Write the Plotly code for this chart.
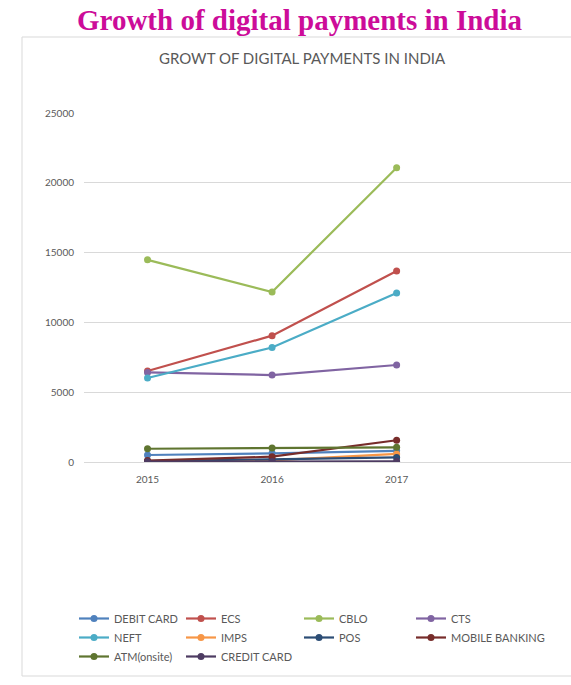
import plotly.graph_objects as go

years = ["2015", "2016", "2017"]
series_names = ["DEBIT CARD", "ECS", "CBLO", "CTS", "NEFT", "IMPS", "POS",
                "MOBILE BANKING", "ATM(onsite)", "CREDIT CARD"]
debit_card = [500, 620, 800]
ecs = [6520, 9050, 13680]
cblo = [14480, 12180, 21080]
cts = [6420, 6230, 6950]
neft = [6020, 8200, 12100]
imps = [30, 120, 580]
pos = [60, 200, 330]
mobile_banking = [100, 380, 1560]
atm_onsite = [950, 1010, 1050]
credit_card = [20, 30, 50]
values = [debit_card, ecs, cblo, cts, neft, imps, pos, mobile_banking, atm_onsite, credit_card]
colors = ["#4F81BD", "#C0504D", "#9BBB59", "#8064A2", "#4BACC6", "#F79646",
          "#2C4D75", "#772C2A", "#5F7530", "#4D3B62"]
y_ticks = [0, 5000, 10000, 15000, 20000, 25000]

W, H = 571, 685
L, R, T, B = 84, 0, 113, 223
pw = W - L - R
ph = H - T - B

def px(x):
    return (x - L) / pw

def py(y):
    return (H - B - y) / ph

legend_ids = ["legend", "legend2", "legend3", "legend4"]
col_x = [74, 181, 299, 411]

fig = go.Figure()
for i, (name, vals, col) in enumerate(zip(series_names, values, colors)):
    fig.add_trace(go.Scatter(
        x=[0, 1, 2], y=vals, name=name, mode="lines+markers",
        line=dict(color=col, width=2.2),
        marker=dict(color=col, size=7),
        legend=legend_ids[i % 4],
    ))

legend_common = dict(
    orientation="v", xanchor="left", yanchor="top", traceorder="normal",
    font=dict(size=11, color="#595959"), bgcolor="rgba(0,0,0,0)",
    itemclick=False, tracegroupgap=0,
)
legends = {}
for lid, cx in zip(legend_ids, col_x):
    legends[lid] = dict(legend_common, x=px(cx), y=py(604))

fig.update_layout(
    width=W, height=H,
    margin=dict(l=L, r=R, t=T, b=B, autoexpand=False),
    paper_bgcolor="white", plot_bgcolor="white",
    font=dict(family="Lato, 'Open Sans', sans-serif", color="#595959", size=10),
    showlegend=True,
    xaxis=dict(
        range=[-0.51, 3.4], tickmode="array", tickvals=[0, 1, 2], ticktext=years,
        showgrid=False, zeroline=False, showline=False, ticks="",
        ticklabelstandoff=10,
        tickfont=dict(size=10, color="#595959"),
    ),
    yaxis=dict(
        range=[0, 25000], tickmode="array", tickvals=y_ticks,
        ticktext=[str(v) for v in y_ticks],
        showgrid=True, gridcolor="#D9D9D9", gridwidth=1,
        zeroline=True, zerolinecolor="#D9D9D9", zerolinewidth=1,
        showline=False, ticks="", ticklabelstandoff=9,
        tickfont=dict(size=10, color="#595959"),
    ),
    **legends,
)

# chart frame
fig.add_shape(type="rect", xref="paper", yref="paper",
              x0=px(22), x1=px(575), y0=py(676), y1=py(37),
              line=dict(color="#D9D9D9", width=1), fillcolor="rgba(0,0,0,0)",
              layer="below")

fig.add_annotation(
    text="<b>Growth of digital payments in India</b>",
    xref="paper", yref="paper", x=px(300), y=py(20),
    xanchor="center", yanchor="middle", showarrow=False,
    font=dict(family="'Liberation Serif', 'DejaVu Serif', serif", size=29, color="#CC0C99"),
)
fig.add_annotation(
    text="GROWT OF DIGITAL PAYMENTS IN INDIA",
    xref="paper", yref="paper", x=px(302), y=py(58),
    xanchor="center", yanchor="middle", showarrow=False,
    font=dict(size=15, color="#595959"),
)

fig.write_html("out.html")
